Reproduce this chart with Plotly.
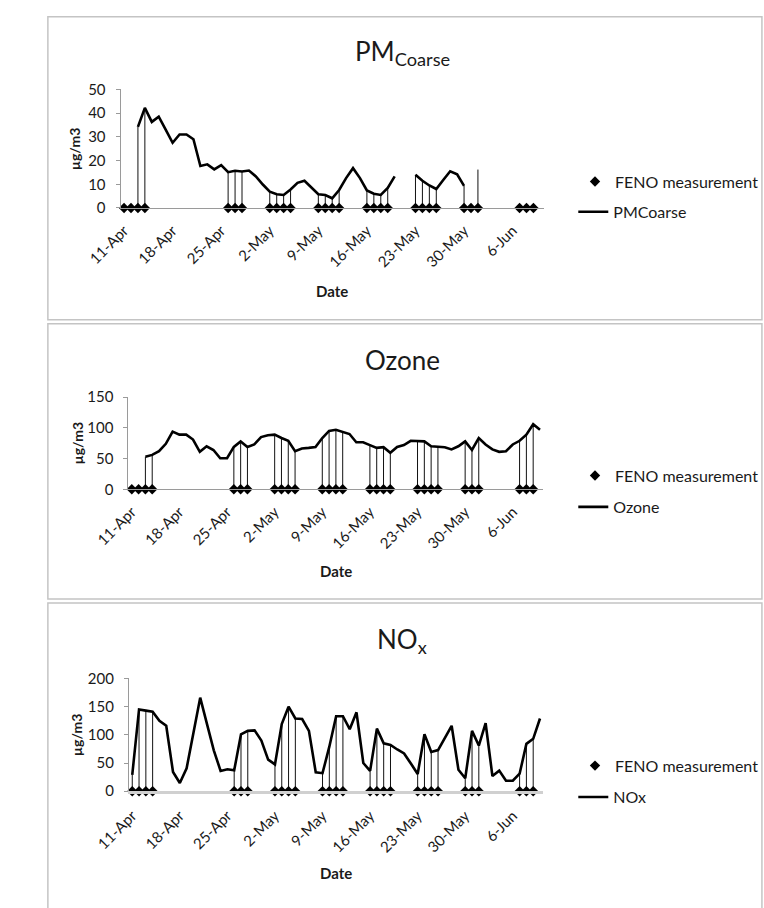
import pandas as pd
import plotly.graph_objects as go

# ---------------- data ----------------
dates = pd.date_range("2011-04-11", "2011-06-10", freq="D")

feno_dates = [
    "2011-04-11", "2011-04-12", "2011-04-13", "2011-04-14",
    "2011-04-26", "2011-04-27", "2011-04-28",
    "2011-05-02", "2011-05-03", "2011-05-04", "2011-05-05",
    "2011-05-09", "2011-05-10", "2011-05-11", "2011-05-12",
    "2011-05-16", "2011-05-17", "2011-05-18", "2011-05-19",
    "2011-05-23", "2011-05-24", "2011-05-25", "2011-05-26",
    "2011-05-30", "2011-05-31", "2011-06-01",
    "2011-06-07", "2011-06-08", "2011-06-09",
]

pm_coarse = [
    None, None, 34.2, 42.2, 36.3, 38.5, 33.0, 27.5, 31.0, 31.0,
    29.0, 17.7, 18.4, 16.3, 18.1, 15.1, 15.7, 15.4, 15.8, 13.3,
    9.9, 6.9, 5.8, 5.5, 7.8, 10.6, 11.5, 8.5, 5.8, 5.5,
    4.1, 7.6, 12.6, 16.8, 12.6, 7.4, 6.0, 5.5, 8.5, 13.3,
    None, None, 14.0, 11.5, 9.5, 8.0, 11.8, 15.5, 14.2, 9.3,
    None, 16.2, None, None, None, None, None, None, None, None,
    None,
]

ozone = [
    None, None, 53, 56, 62, 74, 94, 89, 89, 81,
    61, 70, 64, 50.5, 50.5, 69, 78, 69, 73, 85,
    88, 89, 83.5, 79, 62, 66.5, 67.5, 69, 83.5, 95,
    97, 94, 90, 76.6, 76.6, 72, 67.5, 68.6, 59.6, 69,
    72, 79, 79, 78, 70, 69, 68.6, 65, 70, 78,
    64, 83.5, 73, 65, 61, 62, 73, 79, 89, 106,
    97,
]

nox = [
    29, 145, 143, 141, 125, 116, 34, 14.5, 40.6, 101,
    166, 119, 72.5, 36, 39, 37, 101, 107, 108, 90,
    56, 47.5, 119, 150, 129, 128, 107, 33.6, 32, 79,
    133, 133, 110, 140, 50, 36, 111, 85, 82, 74,
    67, 49, 30.5, 101, 69.6, 73, 95, 116, 38, 23,
    107, 81, 120.6, 27, 36.5, 18.5, 18.5, 31, 84, 93,
    129,
]

tick_dates = ["2011-04-11", "2011-04-18", "2011-04-25", "2011-05-02", "2011-05-09",
              "2011-05-16", "2011-05-23", "2011-05-30", "2011-06-06"]
tick_labels = ["11-Apr", "18-Apr", "25-Apr", "2-May", "9-May",
               "16-May", "23-May", "30-May", "6-Jun"]

panel_titles = ["PM<sub>Coarse</sub>", "Ozone", "NO<sub>x</sub>"]
series_names = ["PMCoarse", "Ozone", "NOx"]
series_values = [pm_coarse, ozone, nox]
y_ranges = [[0, 50], [0, 150], [0, 200]]
y_dticks = [10, 50, 50]

# ---------------- layout helpers (pixels) ----------------
W, H = 764, 908
FONT = "Lato, Carlito, Calibri, sans-serif"
TXT = "#1a1a1a"


def px(x):
    return x / W


def py(y):
    return 1 - y / H


# plot areas: (x_left, x_right, y_top, y_bottom)
areas = [(93, 553, 81, 202), (101.5, 552.5, 395, 489), (102, 552.5, 682, 797)]
boxes = [(14, 7, 790, 316), (14, 320, 790, 601), (14, 605, 790, 920)]
title_y = [43, 357, 643]
date_y = [287, 572, 880]
legend_y = [(175, 206), (475, 507), (771, 803)]
ylab_standoff = [7, 7, 7]
ytitle_x = [43, 46, 46]

fig = go.Figure()
date_strs = [d.strftime("%Y-%m-%d") for d in dates]
value_by_date = [dict(zip(date_strs, vals)) for vals in series_values]

for i in range(3):
    xa = "x" if i == 0 else f"x{i + 1}"
    ya = "y" if i == 0 else f"y{i + 1}"
    vals = series_values[i]
    lookup = value_by_date[i]

    # vertical drop lines at FENO dates
    vx, vy = [], []
    for d in feno_dates:
        v = lookup.get(d)
        if v is not None:
            vx += [d, d, None]
            vy += [0, v, None]
    fig.add_trace(go.Scatter(x=vx, y=vy, mode="lines", xaxis=xa, yaxis=ya,
                             line=dict(color="#111111", width=1),
                             showlegend=False, hoverinfo="skip"))
    # pollutant line
    fig.add_trace(go.Scatter(x=date_strs, y=vals, mode="lines", xaxis=xa, yaxis=ya,
                             name=series_names[i], connectgaps=False,
                             line=dict(color="#000000", width=2.6),
                             legend=f"legend{2 * i + 2}"))
    # FENO markers
    fig.add_trace(go.Scatter(x=feno_dates, y=[0] * len(feno_dates), mode="markers",
                             xaxis=xa, yaxis=ya, name="FENO measurement",
                             marker=dict(symbol="diamond", size=8, color="#000000"),
                             cliponaxis=False,
                             legend="legend" if i == 0 else f"legend{2 * i + 1}"))

    xl, xr, yt, yb = areas[i]
    xkey = "xaxis" if i == 0 else f"xaxis{i + 1}"
    ykey = "yaxis" if i == 0 else f"yaxis{i + 1}"
    fig.update_layout({
        xkey: dict(domain=[px(xl), px(xr)], anchor=ya, type="date",
                   range=["2011-04-10 12:00", "2011-06-10 12:00"],
                   tickvals=tick_dates, ticktext=tick_labels, tickangle=-45,
                   showgrid=False, zeroline=False, showline=True,
                   linecolor="#d0d0d0" if i == 2 else "#9a9a9a",
                   linewidth=3 if i == 2 else 1,
                   ticks="", ticklabelstandoff=7,
                   tickfont=dict(family=FONT, size=15, color=TXT)),
        ykey: dict(domain=[py(yb), py(yt)], anchor=xa, range=y_ranges[i],
                   dtick=y_dticks[i], tick0=0, showgrid=False, zeroline=False,
                   showline=True, linecolor="#9a9a9a", linewidth=1,
                   ticks="outside", ticklen=4, tickcolor="#9a9a9a",
                   ticklabelstandoff=ylab_standoff[i],
                   tickfont=dict(family=FONT, size=15, color=TXT)),
    })

    # panel border
    bx0, by0, bx1, by1 = boxes[i]
    fig.add_shape(type="rect", xref="paper", yref="paper",
                  x0=px(bx0), x1=px(bx1), y0=py(by1), y1=py(by0),
                  line=dict(color="#c4c4c4", width=1.5), layer="below")

    # titles
    fig.add_annotation(text=panel_titles[i], xref="paper", yref="paper",
                       x=px(399), y=py(title_y[i]), showarrow=False,
                       xanchor="center", yanchor="middle",
                       font=dict(family=FONT, size=26, color=TXT))
    fig.add_annotation(text="<b>Date</b>", xref="paper", yref="paper",
                       x=px((xl + xr) / 2), y=py(date_y[i]), showarrow=False,
                       xanchor="center", yanchor="middle",
                       font=dict(family=FONT, size=15, color=TXT))
    fig.add_annotation(text="<b>µg/m3</b>", xref="paper", yref="paper",
                       x=px(ytitle_x[i]), y=py((yt + yb) / 2), showarrow=False,
                       textangle=-90, xanchor="center", yanchor="middle",
                       font=dict(family=FONT, size=14, color=TXT))

# legends
legend_layout = {}
for i in range(3):
    y_feno, y_line = legend_y[i]
    k1 = "legend" if i == 0 else f"legend{2 * i + 1}"
    k2 = f"legend{2 * i + 2}"
    legend_layout[k1] = dict(x=px(587), y=py(y_feno), xanchor="left", yanchor="middle",
                             bgcolor="rgba(0,0,0,0)", font=dict(family=FONT, size=16, color=TXT),
                             itemwidth=30)
    legend_layout[k2] = dict(x=px(585), y=py(y_line), xanchor="left", yanchor="middle",
                             bgcolor="rgba(0,0,0,0)", font=dict(family=FONT, size=16, color=TXT),
                             itemwidth=30)

fig.update_layout(
    width=W, height=H, autosize=False,
    margin=dict(l=0, r=0, t=0, b=0),
    paper_bgcolor="#ffffff", plot_bgcolor="#ffffff",
    **legend_layout,
)

fig.write_html("out.html")
